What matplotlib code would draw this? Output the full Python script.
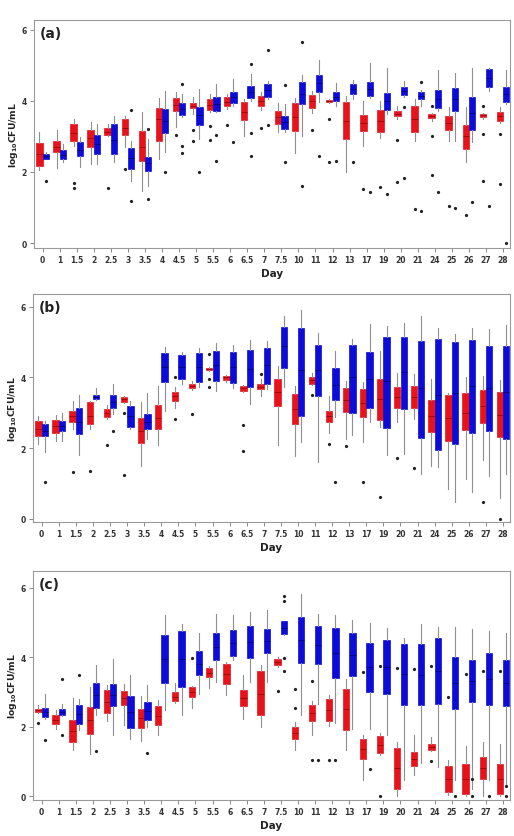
import matplotlib
matplotlib.use('Agg')
import matplotlib.pyplot as plt
import numpy as np

days = ['0', '1', '1.5', '2', '2.5', '3', '3.5', '4', '4.5', '5', '5.5', '6', '6.5', '7',
        '7.5', '10', '11', '12', '13', '17', '19', '20', '21', '24', '25', '26', '27', '28']
yticks = [0, 2, 4, 6]

# ---------------- panel (a) ----------------
a_red_q1 = [2.16, 2.57, 2.88, 2.71, 3.05, 3.05, 2.31, 2.88, 3.73, 3.81, 3.75, 3.85, 3.47, 3.85,
            3.36, 3.15, 3.79, 3.96, 2.93, 3.16, 3.12, 3.57, 3.12, 3.51, 3.18, 2.65, 3.56, 3.45]
a_red_q3 = [2.81, 2.86, 3.36, 3.19, 3.23, 3.50, 3.15, 3.81, 4.09, 3.93, 4.05, 4.10, 3.96, 4.15,
            3.72, 3.93, 4.17, 4.04, 3.96, 3.60, 3.75, 3.71, 3.87, 3.62, 3.57, 3.32, 3.63, 3.70]
a_red_lo = [2.06, 2.12, 2.74, 2.22, 3.00, 2.69, 1.46, 2.37, 3.26, 3.63, 3.68, 3.78, 3.02, 3.75,
            3.12, 2.54, 3.66, 3.94, 1.99, 2.72, 2.95, 3.50, 2.88, 3.45, 2.88, 2.29, 3.50, 3.38]
a_red_hi = [3.14, 3.19, 3.50, 3.40, 3.35, 3.59, 3.68, 4.08, 4.26, 4.10, 4.19, 4.19, 4.05, 4.26,
            3.94, 4.07, 4.29, 4.06, 4.13, 4.01, 4.01, 3.87, 4.05, 3.66, 3.82, 3.84, 3.66, 3.82]
a_red_med = [2.50, 2.70, 3.10, 2.95, 3.13, 3.25, 2.70, 3.50, 3.90, 3.87, 3.90, 3.97, 3.70, 4.00,
             3.55, 3.55, 4.00, 4.00, 3.45, 3.38, 3.45, 3.64, 3.50, 3.57, 3.38, 3.00, 3.60, 3.58]
a_red_fl = [[], [], [1.70, 1.56], [], [1.56], [2.09], [], [], [3.04], [3.19, 2.87], [3.29, 2.90],
            [3.31], [], [3.23], [], [], [3.19], [3.49, 2.28], [], [1.53], [1.57], [2.91, 1.71],
            [0.95], [3.87, 3.01, 1.92], [1.04], [0.78], [3.87, 3.07, 1.74], [3.07, 1.67]]

a_blue_q1 = [2.38, 2.36, 2.45, 2.50, 2.50, 2.09, 2.03, 3.09, 3.60, 3.32, 3.73, 3.93, 4.07, 4.12,
             3.21, 3.91, 4.24, 4.00, 4.21, 4.13, 3.75, 4.17, 4.05, 3.79, 3.71, 3.18, 4.40, 3.98]
a_blue_q3 = [2.50, 2.62, 2.85, 3.04, 3.36, 2.67, 2.43, 3.77, 3.93, 3.84, 4.12, 4.26, 4.41, 4.48,
             3.59, 4.54, 4.73, 4.24, 4.49, 4.54, 4.22, 4.38, 4.24, 4.31, 4.36, 4.12, 4.90, 4.40]
a_blue_lo = [2.36, 2.28, 2.15, 2.22, 2.27, 1.74, 1.60, 2.56, 3.55, 2.93, 3.68, 3.85, 4.00, 4.05,
             3.14, 3.02, 3.96, 3.85, 4.05, 4.08, 3.63, 4.12, 3.87, 3.73, 2.88, 2.84, 4.29, 3.91]
a_blue_hi = [2.57, 2.79, 2.98, 3.36, 3.59, 2.86, 2.93, 4.29, 4.19, 4.34, 4.48, 4.63, 4.76, 4.57,
             3.91, 4.73, 5.16, 4.50, 4.59, 5.07, 4.92, 4.57, 4.30, 4.88, 4.80, 4.92, 4.92, 4.88]
a_blue_med = [2.45, 2.48, 2.62, 2.80, 2.90, 2.40, 2.25, 3.45, 3.77, 3.60, 3.92, 4.10, 4.25, 4.30,
              3.40, 4.20, 4.50, 4.12, 4.35, 4.35, 4.00, 4.28, 4.15, 4.05, 4.05, 3.65, 4.65, 4.20]
a_blue_fl = [[1.74], [], [], [], [], [3.75, 1.18], [3.21, 1.25], [1.99], [4.49, 2.72, 2.54], [1.99],
             [3.04, 2.30], [2.84], [5.04, 3.09, 2.44], [5.44, 3.31], [4.46, 2.28], [5.65, 1.60],
             [2.44], [2.30], [2.28], [1.45], [1.37], [3.82, 1.83], [4.54, 0.90], [1.45], [0.99],
             [1.15], [1.04], [0.0]]

# ---------------- panel (b) ----------------
b_red_q1 = [2.34, 2.43, 2.73, 2.69, 2.89, 3.31, 2.14, 2.54, 3.34, 3.70, 4.21, 3.93, 3.63, 3.67,
            3.18, 2.68, 3.83, 2.73, 3.03, 2.87, 2.80, 3.14, 3.14, 2.45, 2.21, 2.52, 2.71, 2.31]
b_red_q3 = [2.76, 2.81, 3.06, 3.30, 3.11, 3.44, 2.85, 3.22, 3.60, 3.81, 4.28, 4.05, 3.77, 3.81,
            3.97, 3.53, 4.02, 3.06, 3.69, 3.67, 3.95, 3.72, 3.77, 3.36, 3.50, 3.55, 3.64, 3.60]
b_red_lo = [2.12, 2.21, 2.54, 2.55, 2.82, 3.28, 1.51, 2.09, 3.15, 3.65, 4.18, 3.88, 3.60, 3.47,
            2.09, 1.79, 3.78, 2.43, 2.26, 2.18, 2.59, 2.75, 2.84, 1.51, 0.85, 1.13, 1.68, 0.58]
b_red_hi = [2.92, 2.94, 3.34, 3.34, 3.22, 3.48, 3.31, 3.75, 3.72, 3.90, 4.30, 4.08, 3.80, 3.95,
            4.33, 3.77, 4.12, 3.48, 3.91, 3.86, 4.76, 4.12, 4.10, 3.97, 3.56, 4.00, 4.03, 3.93]
b_red_med = [2.55, 2.62, 2.90, 2.90, 3.00, 3.38, 2.50, 2.85, 3.47, 3.76, 4.25, 4.00, 3.70, 3.74,
             3.60, 3.10, 3.93, 2.90, 3.35, 3.27, 3.40, 3.45, 3.45, 2.90, 2.85, 3.00, 3.20, 2.95]
b_red_fl = [[], [], [1.34], [1.37], [2.09], [3.01, 1.24], [], [], [4.00, 2.82], [2.97],
            [4.66, 3.97, 3.74], [], [2.66, 1.93], [4.10], [], [], [3.50], [2.12], [2.07], [1.04],
            [0.61], [1.71], [1.43], [], [], [], [0.47], [0.0]]

b_blue_q1 = [2.35, 2.50, 2.40, 3.39, 3.13, 2.61, 2.53, 3.88, 3.97, 3.86, 3.89, 3.84, 3.72, 3.81,
             4.27, 2.92, 3.47, 3.37, 2.99, 3.13, 2.56, 3.11, 2.28, 1.95, 2.12, 2.43, 2.50, 2.26]
b_blue_q3 = [2.68, 2.78, 3.13, 3.50, 3.50, 3.20, 2.97, 4.69, 4.63, 4.69, 4.76, 4.73, 4.78, 4.84,
             5.43, 5.39, 4.92, 4.28, 4.92, 4.73, 5.15, 5.15, 5.04, 5.08, 4.99, 5.07, 4.90, 4.88]
b_blue_lo = [1.90, 2.21, 1.81, 3.35, 2.97, 2.55, 2.26, 3.06, 3.81, 3.72, 3.63, 3.69, 3.25, 3.67,
             3.72, 2.18, 1.62, 2.87, 2.38, 2.73, 1.81, 1.84, 1.27, 1.46, 0.49, 0.77, 1.22, 1.27]
b_blue_hi = [2.78, 3.01, 3.50, 3.69, 3.81, 3.34, 3.56, 4.85, 4.71, 4.82, 4.97, 4.92, 5.07, 5.04,
             5.73, 5.91, 5.27, 4.76, 5.10, 5.51, 5.46, 5.54, 5.74, 5.41, 5.23, 5.41, 5.37, 5.48]
b_blue_med = [2.50, 2.64, 2.75, 3.45, 3.32, 2.90, 2.75, 4.30, 4.30, 4.30, 4.35, 4.30, 4.25, 4.35,
              4.90, 4.20, 4.20, 3.80, 4.00, 3.95, 3.90, 4.15, 3.70, 3.50, 3.55, 3.75, 3.70, 3.60]
b_blue_fl = [[1.04], [], [], [], [2.48], [], [], [], [], [], [], [], [], [], [], [], [], [1.04],
             [], [], [], [], [], [], [], [], [], []]

# ---------------- panel (c) ----------------
c_red_q1 = [2.42, 2.07, 1.56, 1.80, 2.40, 2.62, 1.96, 2.04, 2.74, 2.86, 3.43, 3.22, 2.59, 2.33,
            3.77, 1.65, 2.15, 2.15, 1.89, 1.08, 1.24, 0.21, 0.87, 1.34, 0.12, 0.07, 0.50, 0.07]
c_red_q3 = [2.52, 2.33, 2.20, 2.57, 3.05, 3.03, 2.52, 2.59, 3.00, 3.14, 3.70, 3.82, 3.05, 3.60,
            3.96, 1.99, 2.62, 2.79, 3.10, 1.63, 1.73, 1.38, 1.27, 1.51, 0.88, 0.93, 1.13, 0.93]
c_red_lo = [2.40, 1.94, 1.32, 1.22, 2.15, 2.04, 1.58, 1.75, 2.68, 2.54, 3.12, 2.90, 2.23, 1.99,
            3.72, 1.32, 1.77, 2.02, 1.32, 0.45, 1.17, 0.00, 0.60, 1.30, 0.02, 0.00, 0.00, 0.00]
c_red_hi = [2.62, 2.47, 2.83, 3.14, 3.19, 3.24, 2.88, 2.76, 3.27, 3.17, 3.75, 3.86, 3.48, 3.77,
            4.00, 2.13, 2.73, 2.92, 3.38, 1.75, 1.83, 1.56, 1.75, 1.70, 1.03, 1.44, 1.56, 1.51]
c_red_med = [2.47, 2.20, 1.88, 2.20, 2.72, 2.82, 2.24, 2.30, 2.87, 3.00, 3.56, 3.52, 2.82, 2.95,
             3.86, 1.82, 2.38, 2.47, 2.50, 1.35, 1.48, 0.80, 1.07, 1.42, 0.50, 0.50, 0.82, 0.50]
c_red_fl = [[2.11], [], [], [], [], [], [], [], [], [3.99], [], [], [], [], [3.02], [3.10, 2.54],
            [3.32, 1.03], [1.03], [], [3.58], [3.75, 0.0], [3.69], [3.67], [3.75, 1.00], [2.86],
            [3.53], [3.60], [3.60]]

c_blue_q1 = [2.28, 2.33, 2.09, 2.54, 2.60, 1.96, 2.18, 3.26, 3.14, 3.48, 3.91, 4.03, 3.99, 4.13,
             4.68, 3.84, 3.82, 3.41, 3.46, 3.00, 2.95, 2.63, 2.62, 2.66, 2.52, 2.71, 2.63, 2.59]
c_blue_q3 = [2.54, 2.52, 2.63, 3.26, 3.22, 2.88, 2.71, 4.63, 4.75, 4.17, 4.70, 4.80, 4.89, 4.83,
             5.04, 5.16, 4.90, 4.86, 4.71, 4.42, 4.49, 4.39, 4.39, 4.56, 4.01, 3.93, 4.13, 3.93]
c_blue_lo = [2.23, 2.30, 1.89, 2.33, 1.77, 1.65, 1.99, 2.47, 2.35, 2.95, 3.29, 3.91, 3.29, 3.29,
             4.65, 2.35, 2.66, 2.11, 1.94, 1.94, 1.75, 0.45, 0.96, 0.84, 0.47, 0.21, 0.45, 0.31]
c_blue_hi = [2.95, 2.66, 2.81, 3.79, 3.96, 3.48, 3.19, 5.21, 4.97, 4.71, 5.26, 5.21, 5.31, 5.36,
             5.06, 5.84, 5.26, 5.21, 5.07, 5.00, 4.85, 4.56, 4.97, 4.88, 4.88, 4.83, 4.75, 4.71]
c_blue_med = [2.41, 2.42, 2.36, 2.90, 2.91, 2.42, 2.45, 3.95, 3.95, 3.82, 4.30, 4.42, 4.44, 4.48,
              4.86, 4.50, 4.36, 4.13, 4.08, 3.71, 3.72, 3.51, 3.50, 3.61, 3.26, 3.32, 3.38, 3.26]
c_blue_fl = [[1.61], [3.37, 1.77], [3.50], [1.29], [], [], [1.24], [], [], [], [], [], [], [],
             [5.77, 5.62, 3.98, 3.60], [], [1.03], [1.03], [], [0.77], [], [], [], [], [0.0],
             [0.48, 0.0], [0.0], [0.29, 0.0]]

RED = '#e8121b'
BLUE = '#0c0cd8'
WHISK = '#8f8f8f'


def make_stats(q1, q3, lo, hi, med, fl):
    return [dict(q1=a, q3=b, whislo=c, whishi=d, med=e, fliers=f)
            for a, b, c, d, e, f in zip(q1, q3, lo, hi, med, fl)]


panels = [
    dict(label='(a)', rect=[34 / 514, 1 - 249 / 837, 476 / 514, 228 / 837], ylim=(-0.14, 6.28),
         red=(a_red_q1, a_red_q3, a_red_lo, a_red_hi, a_red_med, a_red_fl),
         blue=(a_blue_q1, a_blue_q3, a_blue_lo, a_blue_hi, a_blue_med, a_blue_fl)),
    dict(label='(b)', rect=[33 / 514, 1 - 523 / 837, 477 / 514, 228 / 837], ylim=(-0.085, 6.36),
         red=(b_red_q1, b_red_q3, b_red_lo, b_red_hi, b_red_med, b_red_fl),
         blue=(b_blue_q1, b_blue_q3, b_blue_lo, b_blue_hi, b_blue_med, b_blue_fl)),
    dict(label='(c)', rect=[33 / 514, 1 - 801 / 837, 477 / 514, 229 / 837], ylim=(-0.115, 6.49),
         red=(c_red_q1, c_red_q3, c_red_lo, c_red_hi, c_red_med, c_red_fl),
         blue=(c_blue_q1, c_blue_q3, c_blue_lo, c_blue_hi, c_blue_med, c_blue_fl)),
]

fig = plt.figure(figsize=(5.14, 8.37), dpi=100)
pos = np.arange(len(days))

for p in panels:
    ax = fig.add_axes(p['rect'])
    for series, color, dark, off in [(p['red'], RED, '#8a0000', -0.19),
                                     (p['blue'], BLUE, '#00006a', 0.19)]:
        st = make_stats(*series)
        ax.bxp(st, positions=pos + off, widths=0.37, patch_artist=True, showcaps=False,
               boxprops=dict(facecolor=color, edgecolor=color, linewidth=0.5),
               whiskerprops=dict(color=WHISK, linewidth=0.8),
               medianprops=dict(color=dark, linewidth=0.5),
               flierprops=dict(marker='.', markersize=2.6, markerfacecolor='#222222',
                               markeredgecolor='#222222', linestyle='none'),
               manage_ticks=False)
    ax.set_xlim(-0.51, 27.41)
    ax.set_ylim(*p['ylim'])
    ax.set_xticks(pos)
    ax.set_xticklabels(days)
    ax.set_yticks(yticks)
    ax.set_yticklabels([str(t) for t in yticks])
    for s in ax.spines.values():
        s.set_color('#9a9a9a')
        s.set_linewidth(0.8)
    ax.tick_params(axis='both', which='both', length=3, width=0.6, color='#777777',
                   labelsize=5.5, labelcolor='#333333', pad=2)
    for lab in ax.get_xticklabels() + ax.get_yticklabels():
        lab.set_fontweight('bold')
    ax.set_xlabel('Day', fontsize=7.5, fontweight='bold', labelpad=3, color='#222222')
    ax.set_ylabel(r'$\mathbf{log_{10}CFU/mL}$', fontsize=6.6, color='#222222')
    ax.yaxis.set_label_coords(-0.03, 0.5)
    ax.text(0.013, 0.975, p['label'], transform=ax.transAxes, ha='left', va='top',
            fontsize=10, fontweight='bold', color='#222222')

fig.savefig('out.png', dpi=100)
